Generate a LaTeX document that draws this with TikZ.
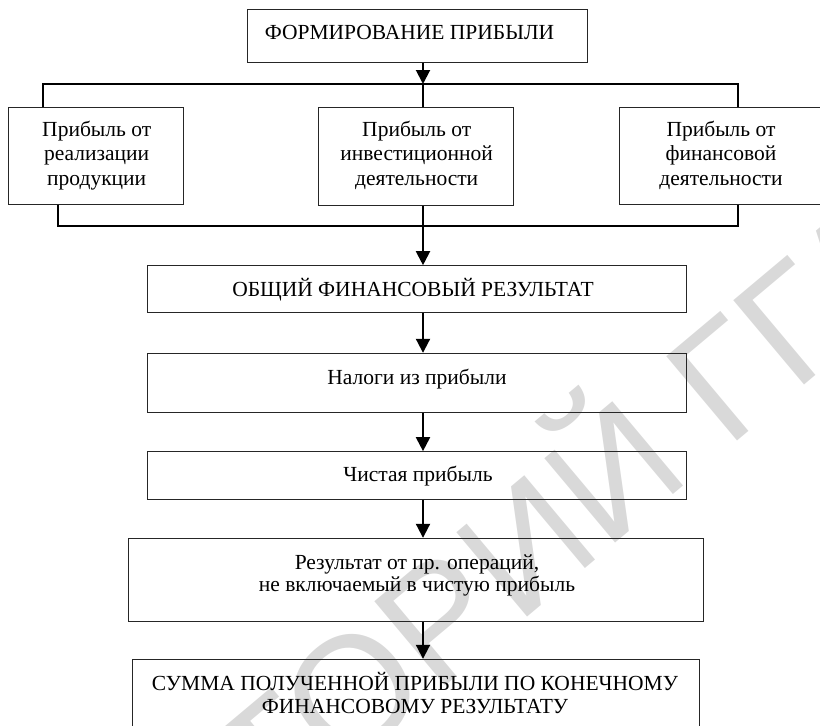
\documentclass[tikz,border=0pt]{standalone}
\usepackage{fontspec}
\setmainfont{Liberation Serif}
\newfontfamily\wmfont{Liberation Sans}
\usetikzlibrary{arrows.meta}
\begin{document}
\begin{tikzpicture}[x=1pt,y=-1pt,
  box/.style={draw=black!85, line width=1pt, rectangle, inner sep=0pt},
  lbl/.style={align=center, font=\fontsize{21.5}{24.3}\selectfont, inner sep=0pt, anchor=base},
  conn/.style={line width=2pt},
  arr/.style={line width=2pt, -{Triangle[width=14pt,length=14pt]}},
  watermark/.style={text=black!15, font=\wmfont\fontsize{160}{160}\selectfont, inner sep=0pt, anchor=base west, rotate=40}]
\useasboundingbox (0,0) rectangle (820,726);
% faint watermark (behind everything)
\node[watermark] (wm) at (-238.3,1260.1) {РЕПОЗИТОРИЙ ГГАУ};
% boxes
\node[box, minimum width=340pt, minimum height=53pt] (top) at (417,35.5) {};
\node[box, minimum width=175pt, minimum height=97pt] (left) at (95.5,155.5) {};
\node[box, minimum width=195pt, minimum height=98pt] (mid) at (415.5,156) {};
\node[box, minimum width=204pt, minimum height=97pt] (right) at (721,155.5) {};
\node[box, minimum width=539pt, minimum height=47pt] (total) at (417.2,289.2) {};
\node[box, minimum width=539pt, minimum height=59.4pt] (tax) at (417.2,383) {};
\node[box, minimum width=539pt, minimum height=48.3pt] (net) at (417.1,475.8) {};
\node[box, minimum width=575.3pt, minimum height=83.4pt] (other) at (416.2,580) {};
\node[box, minimum width=567pt, minimum height=90pt] (final) at (415.5,704.3) {};
% texts (multi-line nodes: base = last line baseline)
\node[lbl] (ttop) at (409.5,39.3) {ФОРМИРОВАНИЕ ПРИБЫЛИ};
\node[lbl] (tleft) at (96.7,185) {Прибыль от\\реализации\\продукции};
\node[lbl] (tmid) at (416.7,185) {Прибыль от\\инвестиционной\\деятельности};
\node[lbl] (tright) at (721,185) {Прибыль от\\финансовой\\деятельности};
\node[lbl] (ttotal) at (413,296) {ОБЩИЙ ФИНАНСОВЫЙ РЕЗУЛЬТАТ};
\node[lbl] (ttax) at (417,384) {Налоги из прибыли};
\node[lbl] (tnet) at (418,481.7) {Чистая прибыль};
\node[lbl, font=\fontsize{21.5}{22.4}\selectfont] (tother) at (417,591.7) {Результат от пр. операций,\\не включаемый в чистую прибыль};
\node[lbl, font=\fontsize{21.5}{23}\selectfont] (tfinal) at (415,713) {СУММА ПОЛУЧЕННОЙ ПРИБЫЛИ ПО КОНЕЧНОМУ\\ФИНАНСОВОМУ РЕЗУЛЬТАТУ};
% connector guides
\coordinate (sx) at (423,0);
\coordinate (busA) at (0,84);
\coordinate (busB) at (0,225.7);
\coordinate (lxa) at (43,0);
\coordinate (lxb) at (58,0);
\coordinate (rx) at (738,0);
% top distribution
\draw[arr] (top.south -| sx) -- (busA -| sx);
\draw[conn] (left.north -| lxa) -- (busA -| lxa) -- (busA -| rx) -- (right.north -| rx);
\draw[conn] (busA -| sx) -- (mid.north -| sx);
% bottom collection
\draw[conn] (left.south -| lxb) -- (busB -| lxb) -- (busB -| rx) -- (right.south -| rx);
\draw[conn] (mid.south -| sx) -- (busB -| sx);
\draw[arr] (busB -| sx) -- (total.north -| sx);
% chain
\draw[arr] (total.south -| sx) -- (tax.north -| sx);
\draw[arr] (tax.south -| sx) -- (net.north -| sx);
\draw[arr] (net.south -| sx) -- (other.north -| sx);
\draw[arr] (other.south -| sx) -- (final.north -| sx);
\end{tikzpicture}
\end{document}
